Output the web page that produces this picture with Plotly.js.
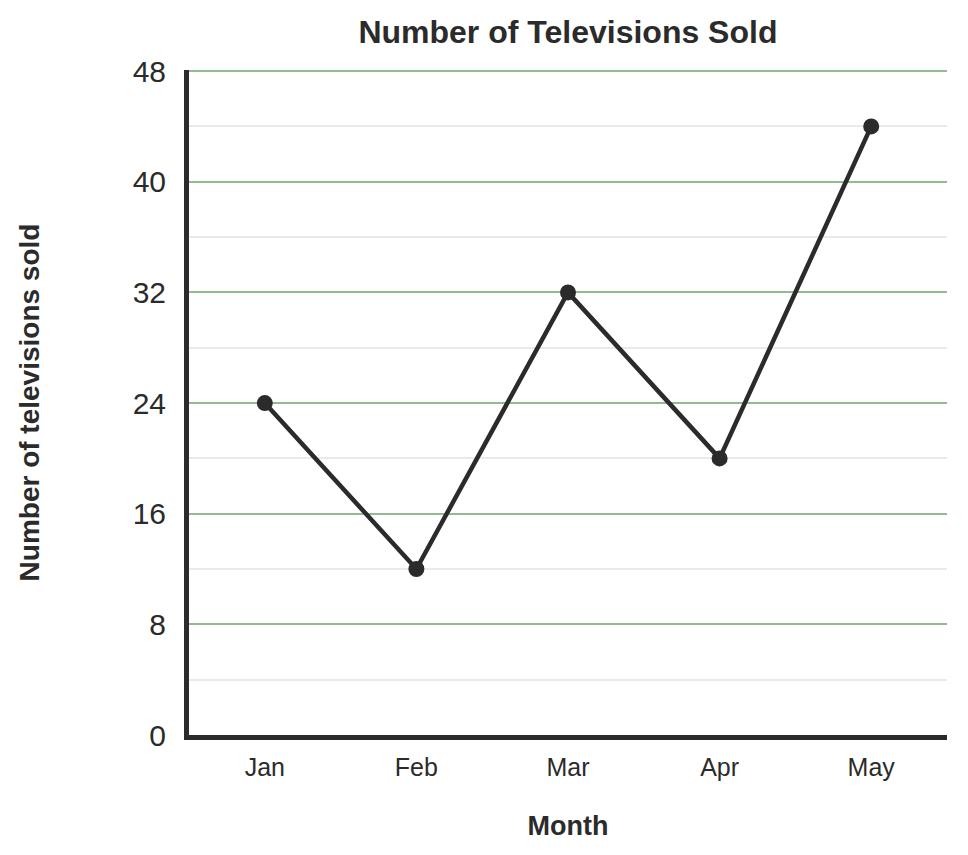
<!DOCTYPE html>
<html>
<head>
<meta charset="utf-8">
<script src="https://cdn.plot.ly/plotly-3.0.1.min.js"></script>
<style>
  html, body { margin: 0; padding: 0; background: #fff; }
  #chart { width: 968px; height: 855px; }
</style>
</head>
<body>
<div id="chart"></div>
<script>
// Televisions sold per month.
const months = ["Jan", "Feb", "Mar", "Apr", "May"];
const sold = [24, 12, 32, 20, 44];
const yTicks = [0, 8, 16, 24, 32, 40, 48];

const INK = "#2b2b2b";
const FONT = "'Liberation Sans', Arial, Helvetica, sans-serif";

Plotly.newPlot("chart", [{
  x: months,
  y: sold,
  type: "scatter",
  mode: "lines+markers",
  line: { color: INK, width: 4.5 },
  marker: { color: INK, size: 16 },
  hoverinfo: "x+y",
}], {
  width: 968,
  height: 855,
  margin: { l: 189, r: 21, t: 70, b: 120 },
  paper_bgcolor: "#fff",
  plot_bgcolor: "#fff",
  font: { family: FONT, size: 24, color: INK },
  showlegend: false,
  title: {
    text: "<b>Number of Televisions Sold</b>",
    font: { size: 32, color: INK },
    x: 0.5867, xanchor: "center",
    y: 0.963, yanchor: "middle",
  },
  xaxis: {
    type: "category",
    range: [-0.5, 4.5],
    showline: true, linecolor: INK, linewidth: 5,
    showgrid: false, zeroline: false,
    ticks: "", ticklabelstandoff: 6,
    tickfont: { size: 25 },
    title: { text: "<b>Month</b>", font: { size: 27 }, standoff: 38 },
  },
  yaxis: {
    range: [0, 48.08],
    tickvals: yTicks,
    showline: true, linecolor: INK, linewidth: 5,
    showgrid: true, gridcolor: "#92bb92", gridwidth: 2,
    zeroline: false,
    minor: { dtick: 4, showgrid: true, gridcolor: "#e6ece6", gridwidth: 2 },
    ticks: "", ticklabelstandoff: 12,
    tickfont: { size: 30 },
    title: { text: "<b>Number of televisions sold</b>", font: { size: 28 }, standoff: 86 },
  },
}, { displayModeBar: false, responsive: false });
</script>
</body>
</html>
